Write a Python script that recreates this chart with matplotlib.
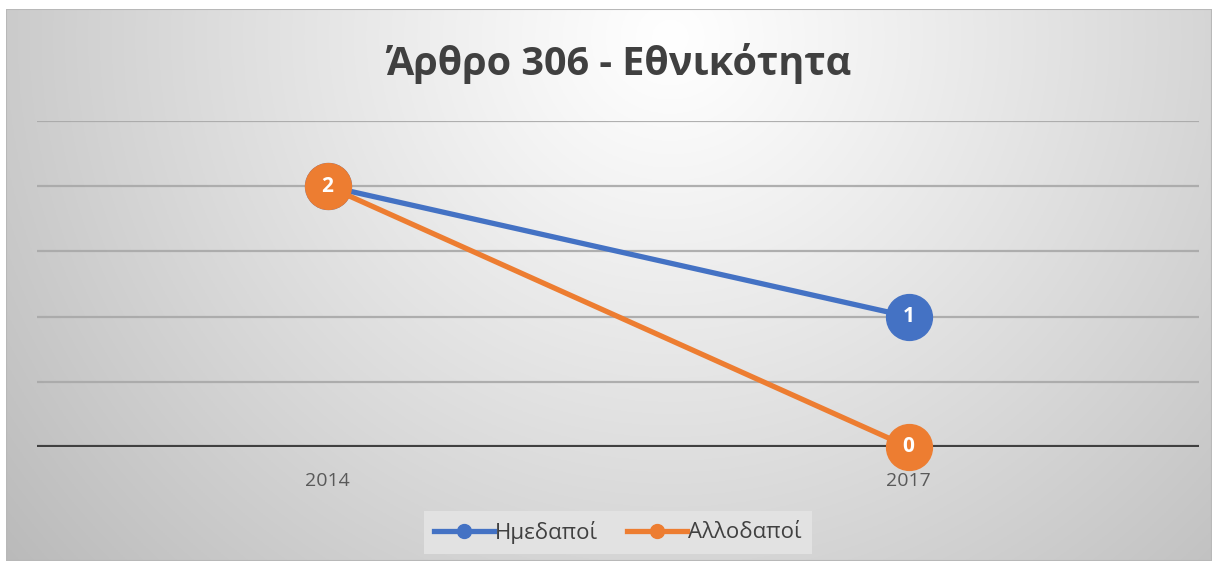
import numpy as np
import matplotlib
matplotlib.use("Agg")
import matplotlib.pyplot as plt
from matplotlib.patches import Rectangle
from matplotlib.lines import Line2D

years = ["2014", "2017"]
domestic = [2, 1]
foreign = [2, 0]
series_names = ["Ημεδαποί", "Αλλοδαποί"]
title = "Άρθρο 306 - Εθνικότητα"

W, H = 1218, 565
fig = plt.figure(figsize=(W / 100, H / 100), dpi=100)
fig.patch.set_facecolor("white")

# background gradient within chart frame
fx0, fy0, fx1, fy1 = 6, 9, 1212, 561
bg = fig.add_axes([fx0 / W, 1 - fy1 / H, (fx1 - fx0) / W, (fy1 - fy0) / H])
bg.set_axis_off()
ny, nx = 300, 600
yy, xx = np.mgrid[0:ny, 0:nx]
cx, cy = 0.55 * nx, 0.05 * ny
d = np.sqrt(((xx - cx) / nx * 2.0) ** 2 + ((yy - cy) / ny * 0.95) ** 2)
d = np.clip(d / d.max(), 0, 1)
val = 1.0 - 0.27 * d ** 1.1
img = np.dstack([val, val, val])
bg.imshow(img, aspect="auto", extent=[0, 1, 0, 1], origin="upper")
bg.set_xlim(0, 1)
bg.set_ylim(0, 1)
bg.add_patch(Rectangle((0, 0), 1, 1, transform=bg.transAxes, fill=False,
                       edgecolor="#b8b8b8", linewidth=1.5))

fig.text(619 / W, 1 - 63 / H, title, ha="center", va="center", fontsize=28.5,
         fontweight="bold", color="#404040", family=["Open Sans", "DejaVu Sans"])

ax = fig.add_axes([37 / W, 1 - 447 / H, 1162 / W, 326 / H])
ax.patch.set_alpha(0)
x = np.arange(len(years))
ax.set_xlim(-0.5, len(years) - 0.5)
ax.set_ylim(0, 2.5)
for s in ax.spines.values():
    s.set_visible(False)
for yv in [0.5, 1.0, 1.5, 2.0, 2.5]:
    ax.axhline(yv, color="#a8a8a8", lw=1.6, zorder=1, alpha=0.9)
ax.axhline(0, color="#404040", lw=3.0, zorder=2)
ax.set_yticks([])
ax.set_xticks(x)
ax.set_xticklabels(years, fontsize=14, color="#595959",
                   family=["Open Sans", "DejaVu Sans"])
ax.tick_params(axis="x", length=0, pad=18)

blue = "#4472C4"
orange = "#ED7D31"
for vals, col, name, z in [(domestic, blue, series_names[0], 3),
                           (foreign, orange, series_names[1], 4)]:
    ax.plot(x, vals, color=col, lw=3.8, marker="o", markersize=33,
            zorder=z, clip_on=False)
    for xi, v in zip(x, vals):
        ax.text(xi, v, str(v), color="white", ha="center", va="center",
                fontsize=15, fontweight="bold", zorder=z + 1,
                family=["Open Sans", "DejaVu Sans"])

handles = [Line2D([], [], color=blue, lw=3.8, marker="o", markersize=10),
           Line2D([], [], color=orange, lw=3.8, marker="o", markersize=10)]
leg = fig.legend(handles, series_names, loc="center",
                 bbox_to_anchor=(618 / W, 1 - 532 / H), ncol=2, frameon=True,
                 fancybox=False, framealpha=1, edgecolor="none",
                 facecolor="#e2e2e2", handlelength=2.7,
                 handletextpad=0.05, columnspacing=1.3, borderpad=0.45,
                 borderaxespad=0,
                 prop={"family": ["Open Sans", "DejaVu Sans"], "size": 16})
for t in leg.get_texts():
    t.set_color("#404040")

fig.savefig("out.png", dpi=100)
